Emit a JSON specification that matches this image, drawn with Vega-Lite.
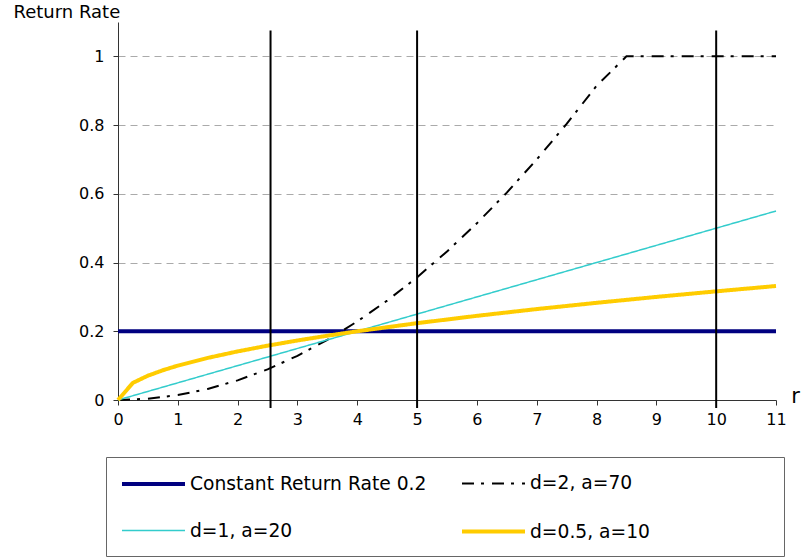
{
  "$schema": "https://vega.github.io/schema/vega-lite/v6.json",
  "autosize": "none",
  "padding": {"left": 118, "top": 22, "right": 25, "bottom": 160},
  "width": 658,
  "height": 378,
  "background": "white",
  "config": {
    "view": {"stroke": null},
    "font": "DejaVu Sans",
    "axis": {"labelFont": "DejaVu Sans", "titleFont": "DejaVu Sans", "labelColor": "black", "titleColor": "black", "domainColor": "#333", "tickColor": "#333", "titleFontWeight": "normal"},
    "legend": {"labelFont": "DejaVu Sans", "titleFont": "DejaVu Sans"}
  },
  "datasets": {
    "curves": [
      {"series": "Constant Return Rate 0.2", "r": 0, "rate": 0.2},
      {"series": "Constant Return Rate 0.2", "r": 11, "rate": 0.2},
      {"series": "d=2, a=70", "r": 0, "rate": 0},
      {"series": "d=2, a=70", "r": 0.5, "rate": 0.00357},
      {"series": "d=2, a=70", "r": 1, "rate": 0.01429},
      {"series": "d=2, a=70", "r": 1.5, "rate": 0.03214},
      {"series": "d=2, a=70", "r": 2, "rate": 0.05714},
      {"series": "d=2, a=70", "r": 2.5, "rate": 0.08929},
      {"series": "d=2, a=70", "r": 3, "rate": 0.12857},
      {"series": "d=2, a=70", "r": 3.5, "rate": 0.175},
      {"series": "d=2, a=70", "r": 4, "rate": 0.22857},
      {"series": "d=2, a=70", "r": 4.5, "rate": 0.28929},
      {"series": "d=2, a=70", "r": 5, "rate": 0.35714},
      {"series": "d=2, a=70", "r": 5.5, "rate": 0.43214},
      {"series": "d=2, a=70", "r": 6, "rate": 0.51429},
      {"series": "d=2, a=70", "r": 6.5, "rate": 0.60357},
      {"series": "d=2, a=70", "r": 7, "rate": 0.7},
      {"series": "d=2, a=70", "r": 7.5, "rate": 0.80357},
      {"series": "d=2, a=70", "r": 8, "rate": 0.91429},
      {"series": "d=2, a=70", "r": 8.5, "rate": 1},
      {"series": "d=2, a=70", "r": 9, "rate": 1},
      {"series": "d=2, a=70", "r": 10, "rate": 1},
      {"series": "d=2, a=70", "r": 11, "rate": 1},
      {"series": "d=1, a=20", "r": 0, "rate": 0},
      {"series": "d=1, a=20", "r": 4, "rate": 0.2},
      {"series": "d=1, a=20", "r": 11, "rate": 0.55},
      {"series": "d=0.5, a=10", "r": 0, "rate": 0},
      {"series": "d=0.5, a=10", "r": 0.25, "rate": 0.05},
      {"series": "d=0.5, a=10", "r": 0.5, "rate": 0.0707},
      {"series": "d=0.5, a=10", "r": 0.75, "rate": 0.0866},
      {"series": "d=0.5, a=10", "r": 1, "rate": 0.1},
      {"series": "d=0.5, a=10", "r": 1.5, "rate": 0.1225},
      {"series": "d=0.5, a=10", "r": 2, "rate": 0.1414},
      {"series": "d=0.5, a=10", "r": 2.5, "rate": 0.1581},
      {"series": "d=0.5, a=10", "r": 3, "rate": 0.1732},
      {"series": "d=0.5, a=10", "r": 3.5, "rate": 0.1871},
      {"series": "d=0.5, a=10", "r": 4, "rate": 0.2},
      {"series": "d=0.5, a=10", "r": 5, "rate": 0.2236},
      {"series": "d=0.5, a=10", "r": 6, "rate": 0.2449},
      {"series": "d=0.5, a=10", "r": 7, "rate": 0.2646},
      {"series": "d=0.5, a=10", "r": 8, "rate": 0.2828},
      {"series": "d=0.5, a=10", "r": 9, "rate": 0.3},
      {"series": "d=0.5, a=10", "r": 10, "rate": 0.3162},
      {"series": "d=0.5, a=10", "r": 11, "rate": 0.3317}
    ],
    "verticals": [
      {"r": 2.55, "low": -0.023, "high": 1.075},
      {"r": 5, "low": -0.023, "high": 1.075},
      {"r": 10, "low": -0.023, "high": 1.075}
    ]
  },
  "layer": [
    {
      "data": {"name": "curves"},
      "mark": {"type": "line", "clip": false},
      "encoding": {
        "x": {
          "field": "r", "type": "quantitative",
          "scale": {"domain": [0, 11], "nice": false, "zero": false},
          "axis": {
            "values": [0,1,2,3,4,5,6,7,8,9,10,11], "format": "d", "labelFlush": false,
            "grid": false, "tickSize": 5, "labelPadding": 6, "labelFontSize": 16,
            "title": "r", "titleX": 677, "titleY": 2, "titleAlign": "center", "titleBaseline": "alphabetic", "titleFontSize": 21
          }
        },
        "y": {
          "field": "rate", "type": "quantitative",
          "scale": {"domain": [0, 1.1], "nice": false},
          "axis": {
            "values": [0, 0.2, 0.4, 0.6, 0.8, 1], "format": "~g",
            "grid": true, "gridDash": [7, 5], "gridColor": "#aaa", "tickSize": 5, "labelPadding": 9, "labelFontSize": 16,
            "title": "Return Rate", "titleAngle": 0, "titleX": -105, "titleY": -4.5, "titleAlign": "left", "titleBaseline": "alphabetic", "titleFontSize": 18
          }
        },
        "color": {
          "field": "series", "type": "nominal",
          "scale": {"domain": ["Constant Return Rate 0.2", "d=2, a=70", "d=1, a=20", "d=0.5, a=10"], "range": ["#000080", "#000000", "#33CCCC", "#FFCC00"]},
          "legend": {
            "orient": "none", "legendX": -12, "legendY": 435, "direction": "horizontal", "columns": 2,
            "title": " ", "titleOrient": "right", "titleFontSize": 1, "titlePadding": 120,
            "symbolType": "M-3,0H3", "symbolSize": 441, "symbolOffset": 21, "labelFontSize": 18.7, "labelColor": "black", "labelOffset": 24, "labelLimit": 400,
            "columnPadding": 27, "rowPadding": 25, "padding": 14,
            "strokeColor": "#666", "fillColor": "white"
          }
        },
        "strokeDash": {
          "field": "series", "type": "nominal",
          "scale": {"domain": ["Constant Return Rate 0.2", "d=2, a=70", "d=1, a=20", "d=0.5, a=10"], "range": [[1, 0], [12, 7, 3, 8], [1, 0], [1, 0]]}
        },
        "strokeWidth": {
          "field": "series", "type": "nominal",
          "scale": {"type": "ordinal", "domain": ["Constant Return Rate 0.2", "d=2, a=70", "d=1, a=20", "d=0.5, a=10"], "range": [4, 2, 1.5, 4]}
        }
      }
    },
    {
      "data": {"name": "verticals"},
      "mark": {"type": "rule", "color": "black", "strokeWidth": 2},
      "encoding": {
        "x": {"field": "r", "type": "quantitative"},
        "y": {"field": "low", "type": "quantitative"},
        "y2": {"field": "high"}
      }
    }
  ]
}
